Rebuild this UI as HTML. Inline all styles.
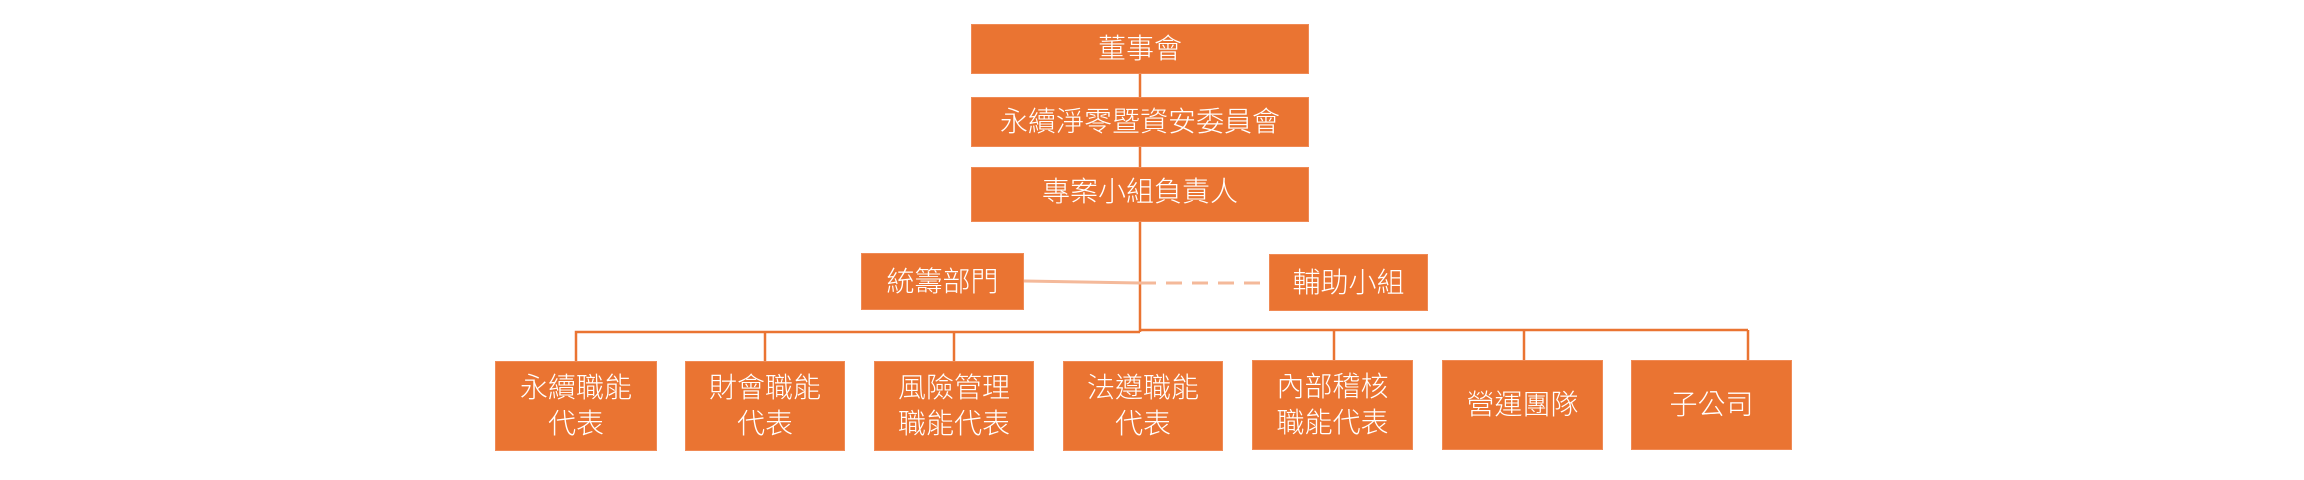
<!DOCTYPE html>
<html><head><meta charset="utf-8"><style>
body{margin:0;width:2304px;height:480px;background:#fff;position:relative;overflow:hidden;font-family:"Liberation Sans","Noto Sans CJK TC",sans-serif;}
.b{position:absolute;background:#EA7432;color:#fff;display:flex;align-items:center;justify-content:center;text-align:center;font-size:28px;line-height:36px;font-weight:300;box-sizing:border-box;border:1px solid #F08A55;}
svg{position:absolute;left:0;top:0}
</style></head><body>
<svg width="2304" height="480">
<g stroke="#EA7432" stroke-width="2.5" fill="none">
<line x1="1140" y1="74" x2="1140" y2="97"/>
<line x1="1140" y1="147" x2="1140" y2="167"/>
<line x1="1140" y1="222" x2="1140" y2="332"/>
<polyline points="576,361 576,332 1140,332"/>
<line x1="1140" y1="330" x2="1748" y2="330"/>
<line x1="1748" y1="330" x2="1748" y2="360"/>
<line x1="765" y1="332" x2="765" y2="361"/>
<line x1="954" y1="332" x2="954" y2="361"/>
<line x1="1334" y1="330" x2="1334" y2="360"/>
<line x1="1524" y1="330" x2="1524" y2="360"/>
</g>
<line x1="1024" y1="281" x2="1140" y2="283" stroke="#F4B99A" stroke-width="3"/>
<line x1="1140" y1="283" x2="1269" y2="283" stroke="#F4B99A" stroke-width="3" stroke-dasharray="16,10"/>
</svg>
<div class="b" style="left:971px;top:24px;width:338px;height:50px;font-size:28px">董事會</div>
<div class="b" style="left:971px;top:97px;width:338px;height:50px;font-size:28px">永續淨零暨資安委員會</div>
<div class="b" style="left:971px;top:167px;width:338px;height:55px;font-size:28px;align-items:flex-start;padding-top:6px">專案小組負責人</div>
<div class="b" style="left:861px;top:253px;width:163px;height:57px">統籌部門</div>
<div class="b" style="left:1269px;top:254px;width:159px;height:57px">輔助小組</div>
<div class="b" style="left:495px;top:361px;width:162px;height:90px">永續職能<br>代表</div>
<div class="b" style="left:685px;top:361px;width:160px;height:90px">財會職能<br>代表</div>
<div class="b" style="left:874px;top:361px;width:160px;height:90px">風險管理<br>職能代表</div>
<div class="b" style="left:1063px;top:361px;width:160px;height:90px">法遵職能<br>代表</div>
<div class="b" style="left:1252px;top:360px;width:161px;height:90px">內部稽核<br>職能代表</div>
<div class="b" style="left:1442px;top:360px;width:161px;height:90px">營運團隊</div>
<div class="b" style="left:1631px;top:360px;width:161px;height:90px">子公司</div>
</body></html>
